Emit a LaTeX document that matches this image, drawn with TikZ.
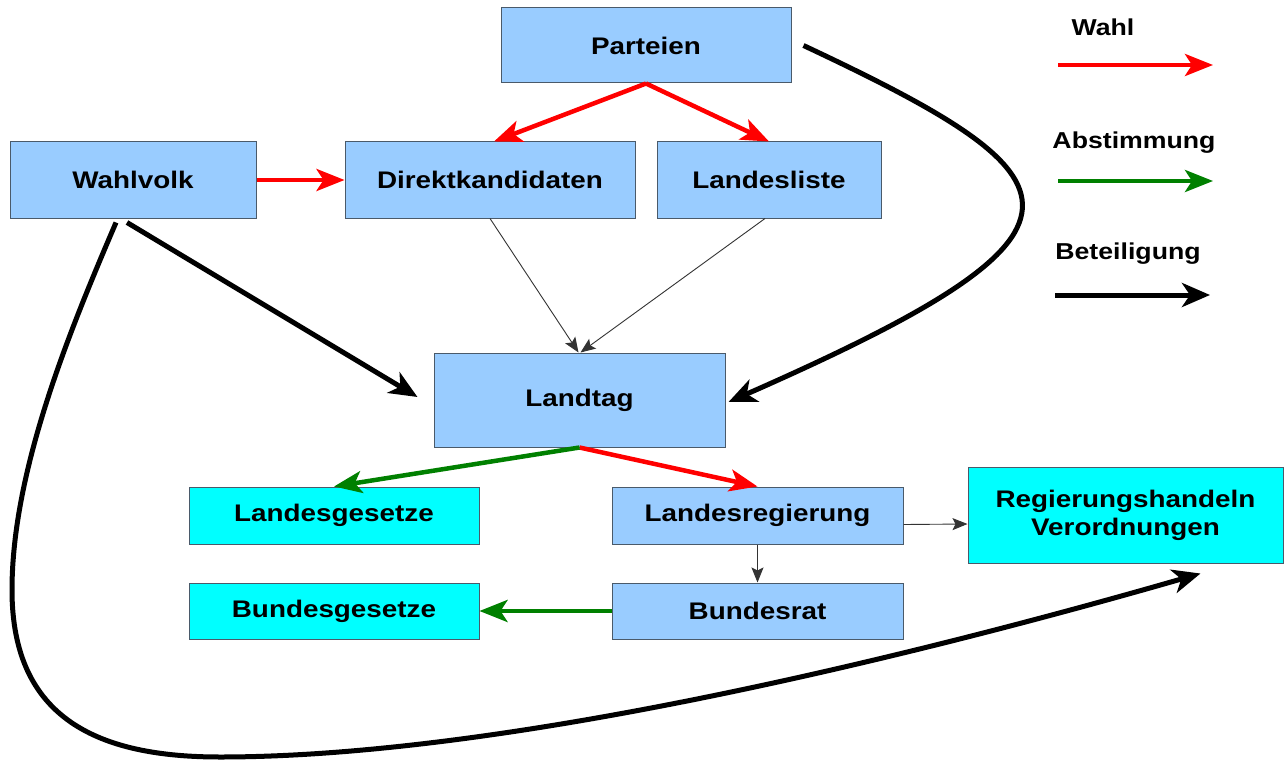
\documentclass[tikz,border=0pt]{standalone}
\usepackage{fontspec}
\setmainfont{Liberation Sans}[FakeStretch=1.16]
\usetikzlibrary{arrows.meta,calc}
\definecolor{boxblue}{HTML}{99CCFF}
\definecolor{boxcyan}{HTML}{00FFFF}
\definecolor{boxline}{HTML}{4A5A6A}
\definecolor{wahlred}{HTML}{FF0000}
\definecolor{abstgreen}{HTML}{008000}
\begin{document}
\begin{tikzpicture}[x=1pt,y=-1pt,
  bx/.style={draw=boxline, line width=1pt, inner sep=0pt, align=center,
    font=\fontsize{24}{28}\selectfont\bfseries},
  bluebox/.style={bx, fill=boxblue},
  cyanbox/.style={bx, fill=boxcyan},
  legendtext/.style={inner sep=0pt, font=\fontsize{23}{27}\selectfont\bfseries},
  wahlarrow/.style={draw=wahlred, line width=4.5pt,
    -{Stealth[length=28pt,width=22pt,inset=7pt]}},
  abstarrow/.style={draw=abstgreen, line width=4.5pt,
    -{Stealth[length=28pt,width=22pt,inset=7pt]}},
  teilarrow/.style={draw=black, line width=5pt,
    -{Stealth[length=28pt,width=24pt,inset=8pt]}},
  thinarrow/.style={draw=black!80, line width=0.9pt,
    -{Stealth[length=15pt,width=12pt,inset=3pt]}}
]
\useasboundingbox (0,0) rectangle (1284,762);
\fill[white] (0,0) rectangle (1284,762);

% boxes
\node[bluebox, minimum width=290pt, minimum height=75pt] (parteien) at (646,45.5) {Parteien};
\node[bluebox, minimum width=246pt, minimum height=76pt] (wahlvolk) at (133,180) {Wahlvolk};
\node[bluebox, minimum width=290pt, minimum height=76pt] (direkt) at (490,180) {Direktkandidaten};
\node[bluebox, minimum width=224pt, minimum height=76pt] (liste) at (769,180) {Landesliste};
\node[bluebox, minimum width=291pt, minimum height=94pt] (landtag) at (579.5,400) {Landtag};
\node[cyanbox, minimum width=290pt, minimum height=57pt] (lgesetze) at (334,515.5) {Landesgesetze};
\node[bluebox, minimum width=291pt, minimum height=57pt] (lreg) at (757.5,515.5) {Landesregierung};
\node[cyanbox, minimum width=315pt, minimum height=96pt] (rhandeln) at (1125.5,515) {Regierungshandeln\\Verordnungen};
\node[cyanbox, minimum width=290pt, minimum height=56pt] (bgesetze) at (334,611) {Bundesgesetze};
\node[bluebox, minimum width=291pt, minimum height=56pt] (brat) at (757.5,611) {Bundesrat};

% legend
\node[legendtext] (lwahl) at (1103,27) {Wahl};
\node[legendtext] (labst) at (1134,143) {Abstimmung};
\node[legendtext] (lteil) at (1128,254) {Beteiligung};
\coordinate (lw1) at (1058,65);  \coordinate (lw2) at (1213,65);
\coordinate (la1) at (1058,181); \coordinate (la2) at (1213,181);
\coordinate (lt1) at (1055,295); \coordinate (lt2) at (1210,295);
\draw[wahlarrow] (lw1) -- (lw2);
\draw[abstarrow] (la1) -- (la2);
\draw[teilarrow] (lt1) -- (lt2);

% Wahl arrows
\draw[wahlarrow] (parteien.south) -- ($(direkt.north)+(4,0)$);
\draw[wahlarrow] (parteien.south) -- (liste.north);
\draw[wahlarrow] (wahlvolk.east) -- (direkt.west);
\draw[wahlarrow] (landtag.south) -- (lreg.north);

% Abstimmung arrows
\draw[abstarrow] (landtag.south) -- (lgesetze.north);
\draw[abstarrow] (brat.west) -- (bgesetze.east);

% thin arrows
\draw[thinarrow] (direkt.south) -- ($(landtag.north)+(-1,0)$);
\draw[thinarrow] ($(liste.south)+(-4,0)$) -- ($(landtag.north)+(1,0)$);
\draw[thinarrow] (lreg.south) -- (brat.north);
\draw[thinarrow] ($(lreg.east)+(0,9)$) -- ($(rhandeln.west)+(0,9)$);

% Beteiligung arrows
\draw[teilarrow] ($(wahlvolk.south)+(-6,4)$) -- ($(landtag.west)+(-16,-3)$);
\draw[teilarrow] ($(parteien.east)+(12,0)$) .. controls (1090,180) and (1120,230) .. ($(landtag.east)+(3,2)$);
\draw[teilarrow] ($(wahlvolk.south)+(-17,4)$) .. controls (70,330) and (12,470) .. (12,590)
   .. controls (12,720) and (100,757) .. (220,757)
   .. controls (500,757) and (900,660) .. ($(rhandeln.south)+(75,10)$);
\end{tikzpicture}
\end{document}
